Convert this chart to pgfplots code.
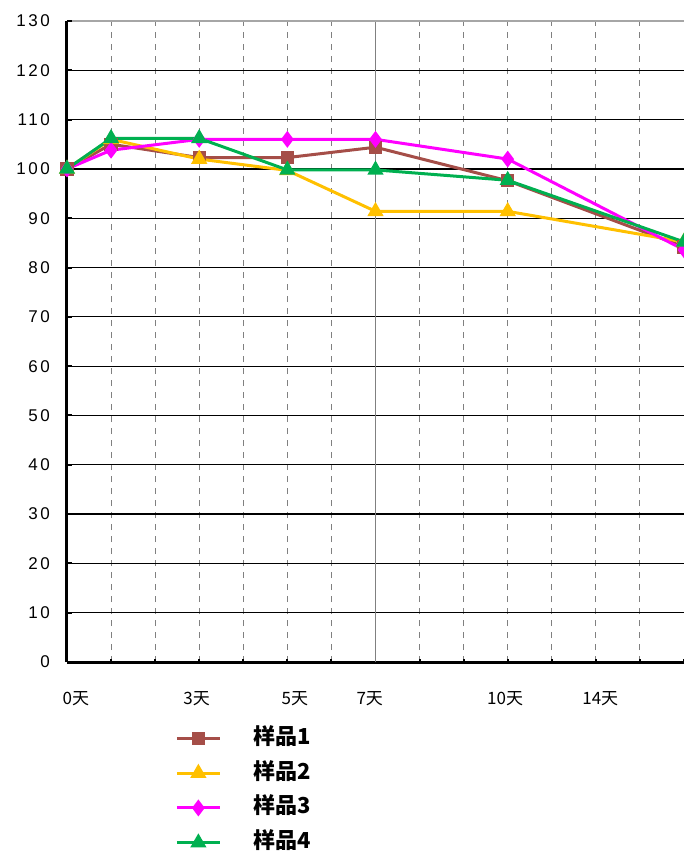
\documentclass[border=0pt]{standalone}
\usepackage{pgfplots}
\pgfplotsset{compat=1.18}
\usepackage{fontspec}
\setmainfont{Liberation Sans}
\newfontfamily\cjk{Noto Sans CJK SC}
\newfontfamily\tickfont[LetterSpace=15]{Liberation Sans}

\definecolor{sbrown}{RGB}{165,78,72}
\definecolor{syellow}{RGB}{255,192,0}
\definecolor{smagenta}{RGB}{255,0,255}
\definecolor{sgreen}{RGB}{0,176,80}

\begin{document}
\begin{tikzpicture}
  \path[use as bounding box] (-33.5pt,-95.5pt) rectangle (308.5pt,331pt);
  \begin{axis}[
      scale only axis,
      width=308.5pt, height=320.5pt,
      at={(0,0)}, anchor=south west,
      xmin=0, xmax=14, ymin=0, ymax=130,
      axis x line*=bottom, axis y line*=left,
      axis line style={line width=1.5pt, black},
      tick align=inside,
      major tick length=2.5pt, minor tick length=1.5pt,
      ytick={0,10,...,120},
      extra y ticks={130},
      extra y tick style={major y grid style={gray!70, line width=0.6pt}},
      ymajorgrids,
      major y grid style={black, line width=0.6pt},
      ytick style={black, line width=1pt},
      xtick={0.2,2.94,5.17,6.87,9.94,12.1},
      xticklabels={0天,3天,5天,7天,10天,14天},
      major x tick style={draw=none},
      minor xtick={1,2,3,4,5,6,8,9,10,11,12,13,14},
      xminorgrids,
      minor x grid style={gray, dashed, line width=0.5pt},
      minor x tick style={black, line width=1pt},
      extra x ticks={7}, extra x tick labels={},
      extra x tick style={grid=major, major x grid style={gray, solid, line width=0.6pt}, major x tick style={black, line width=1pt}},
      /pgf/number format/assume math mode=true,
      yticklabel style={font=\tickfont\fontsize{8.5}{10}\selectfont, xshift=-5pt},
      xticklabel style={font=\cjk\fontsize{8.5}{10}\selectfont, yshift=-11pt},
      legend cell align=left,
      legend image code/.code={
        \draw[mark repeat=2, mark phase=2] plot coordinates {(0pt,0pt) (10.75pt,0pt) (21.5pt,0pt)};
      },
      legend style={
        at={(0.175,-0.101)}, anchor=north west,
        draw=none, fill=none, inner sep=0pt,
        font=\cjk\bfseries\fontsize{11}{12}\selectfont,
        row sep=6.2pt,
        nodes={inner ysep=0pt, text height=8.6pt, text depth=2.6pt},
        /tikz/every odd column/.append style={column sep=14pt},
      },
    ]
    \addplot[color=sbrown, line width=1.5pt, mark=square*, mark size=2.6pt, mark options={solid}]
      coordinates {(0,100) (1,105) (3,102.3) (5,102.3) (7,104.4) (10,97.6) (14,84.2)};
    \addlegendentry{样品1}
    \addplot[color=syellow, line width=1.5pt, mark=triangle*, mark size=3.2pt, mark options={solid}]
      coordinates {(0,100) (1,106) (3,102) (5,99.7) (7,91.4) (10,91.4) (14,85.2)};
    \addlegendentry{样品2}
    \addplot[color=smagenta, line width=1.5pt, mark=diamond*, mark size=3pt, mark options={solid}]
      coordinates {(0,100) (1,103.8) (3,106) (5,106) (7,106) (10,102) (14,83.6)};
    \addlegendentry{样品3}
    \addplot[color=sgreen, line width=1.5pt, mark=triangle*, mark size=3.2pt, mark options={solid}]
      coordinates {(0,100) (1,106.2) (3,106.2) (5,99.8) (7,99.8) (10,97.7) (14,85.2)};
    \addlegendentry{样品4}
  \end{axis}
\end{tikzpicture}
\end{document}
